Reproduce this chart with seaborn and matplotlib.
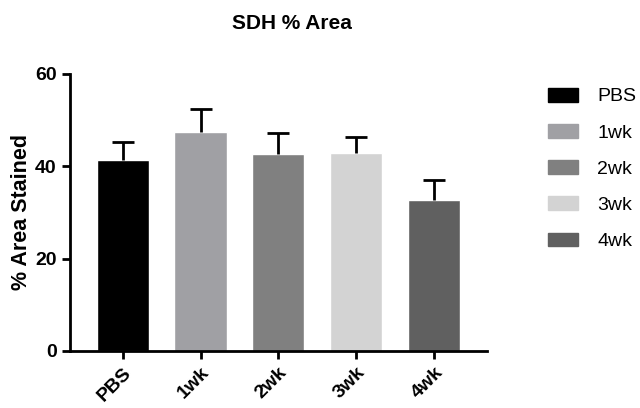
import numpy as np
import pandas as pd
import matplotlib
matplotlib.use('Agg')
import matplotlib.pyplot as plt
import seaborn as sns

groups = ['PBS', '1wk', '2wk', '3wk', '4wk']
means = [41.3, 47.5, 42.7, 42.9, 32.6]
errs = [4.0, 4.9, 4.5, 3.4, 4.4]
colors = ['#000000', '#a0a0a4', '#808080', '#d3d3d3', '#606060']

sns.set_style('ticks')
plt.rcParams['font.family'] = ['Liberation Sans', 'DejaVu Sans']
plt.rcParams['text.color'] = 'black'
plt.rcParams['axes.labelcolor'] = 'black'
plt.rcParams['xtick.color'] = 'black'
plt.rcParams['ytick.color'] = 'black'
plt.rcParams['axes.edgecolor'] = 'black'

df = pd.DataFrame({'group': groups, 'area': means})

fig = plt.figure(figsize=(6.4, 4.08), dpi=100)
ax = fig.add_axes([0.109, 0.140, 0.652, 0.679])

sns.barplot(data=df, x='group', y='area', hue='group', palette=colors,
            width=0.67, errorbar=None, legend=False, ax=ax, saturation=1)
_, caps, _ = ax.errorbar(np.arange(len(groups)), means,
                         yerr=[np.zeros(len(errs)), errs],
                         fmt='none', ecolor='black', elinewidth=2,
                         capsize=8, capthick=2)
caps[0].set_visible(False)  # only the upper cap

ax.set_xlim(-0.68, 4.68)
ax.set_ylim(0, 60)
ax.set_yticks([0, 20, 40, 60])
ax.set_xlabel('')
ax.set_ylabel('% Area Stained', fontsize=15.5, fontweight='bold', labelpad=2)
ax.set_title('SDH % Area', fontsize=15, fontweight='bold', pad=32, x=0.532)
plt.setp(ax.get_xticklabels(), rotation=45, ha='right', rotation_mode='anchor',
         fontsize=14, fontweight='bold')
plt.setp(ax.get_yticklabels(), fontsize=14, fontweight='bold')
ax.tick_params(width=2, length=6, direction='out')
for s in ['left', 'bottom']:
    ax.spines[s].set_linewidth(2)
sns.despine(ax=ax)

handles = [plt.Rectangle((0, 0), 1, 1, color=c) for c in colors]
fig.legend(handles, groups, loc='upper left', bbox_to_anchor=(0.856, 0.785),
           frameon=False, fontsize=14, handlelength=1.55, handleheight=0.72,
           labelspacing=0.95, handletextpad=1.0, borderaxespad=0,
           borderpad=0)

fig.savefig('out.png', dpi=100)
